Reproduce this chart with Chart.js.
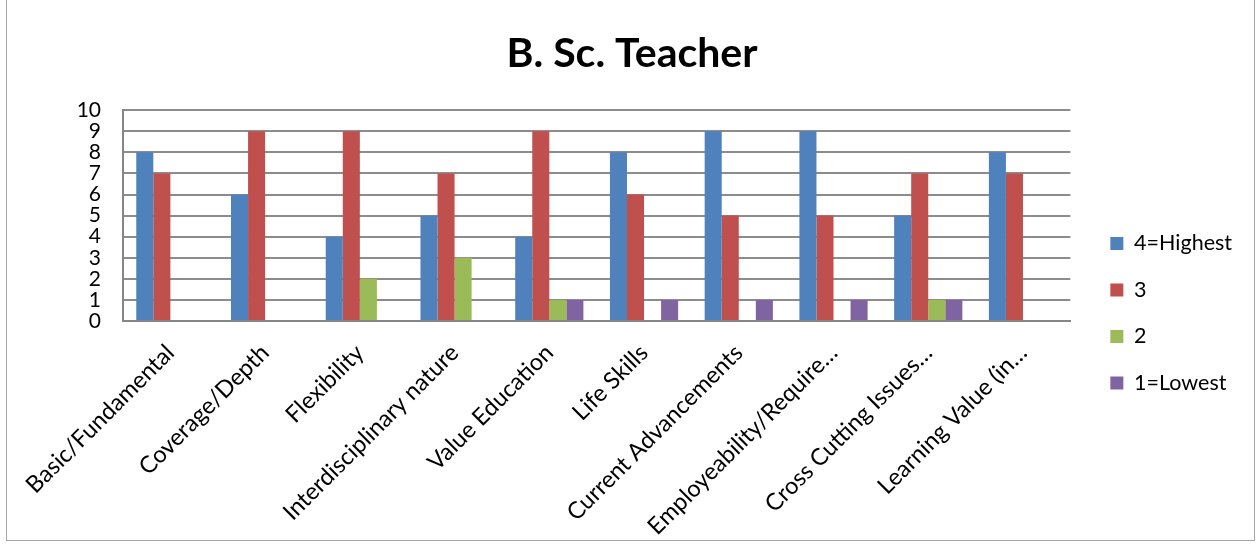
<!DOCTYPE html>
<html>
<head>
<meta charset="utf-8">
<script src="https://cdn.jsdelivr.net/npm/chart.js@4.4.1/dist/chart.umd.min.js"></script>
<style>
  html, body { margin: 0; padding: 0; background: #fff; }
  #wrap { position: relative; width: 1259px; height: 544px; }
  #frame { position: absolute; left: 6px; top: -2px; width: 1249px; height: 543px; border: 1.5px solid #a6a6a6; box-sizing: border-box; pointer-events: none; }
  canvas { position: absolute; left: 0; top: 0; }
</style>
</head>
<body>
<div id="wrap">
  <canvas id="c" width="1259" height="544"></canvas>
  <div id="frame"></div>
</div>
<script>
const categories = [
  "Basic/Fundamental",
  "Coverage/Depth",
  "Flexibility",
  "Interdisciplinary nature",
  "Value Education",
  "Life Skills",
  "Current Advancements",
  "Employeability/Require\u2026",
  "Cross Cutting Issues\u2026",
  "Learning Value (in\u2026"
];
const seriesNames = ["4=Highest", "3", "2", "1=Lowest"];
const highest = [8, 6, 4, 5, 4, 8, 9, 9, 5, 8];
const three   = [7, 9, 9, 7, 9, 6, 5, 5, 7, 7];
const two     = [0, 0, 2, 3, 1, 0, 0, 0, 1, 0];
const lowest  = [0, 0, 0, 0, 1, 1, 1, 1, 1, 0];
const yTicks = [0, 1, 2, 3, 4, 5, 6, 7, 8, 9, 10];
const colors = ["#4F81BD", "#C0504D", "#9BBB59", "#8064A2"];

const FONT = "Lato, 'Open Sans', sans-serif";
const values = [highest, three, two, lowest];

new Chart(document.getElementById('c'), {
  type: 'bar',
  data: {
    labels: categories,
    datasets: values.map((v, i) => ({
      label: seriesNames[i],
      data: v,
      backgroundColor: colors[i],
      borderWidth: 0,
      categoryPercentage: 0.72,
      barPercentage: 1.0
    }))
  },
  options: {
    responsive: false,
    animation: false,
    layout: { padding: { left: 22, right: 17, top: 0, bottom: 0 } },
    plugins: {
      title: {
        display: true,
        text: "B. Sc. Teacher",
        color: "#000",
        font: { family: FONT, size: 41, weight: 'bold' },
        padding: { top: 29, bottom: 32 }
      },
      legend: {
        position: 'right',
        align: 'center',
        title: {
          display: true,
          text: ' ',
          font: { family: FONT, size: 2 },
          padding: { top: 80, bottom: 0 }
        },
        labels: {
          color: "#000",
          font: { family: FONT, size: 21.5 },
          boxWidth: 13,
          boxHeight: 13,
          padding: 25
        }
      },
      tooltip: { enabled: false }
    },
    scales: {
      x: {
        grid: { display: false, drawTicks: false },
        border: { display: true, color: "#868686", width: 2 },
        ticks: {
          color: "#000",
          font: { family: FONT, size: 23.5 },
          minRotation: 45,
          maxRotation: 45,
          autoSkip: false,
          padding: 18
        },
        afterFit: (s) => { s.height = 223; }
      },
      y: {
        min: 0,
        max: 10,
        afterBuildTicks: (s) => { s.ticks = yTicks.map(v => ({ value: v })); },
        grid: { color: "#8c8c8c", lineWidth: 2, drawTicks: false },
        border: { display: true, color: "#868686", width: 2 },
        ticks: {
          color: "#000",
          font: { family: FONT, size: 21 },
          padding: 22,
          autoSkip: false,
          stepSize: 1
        },
        afterFit: (s) => { s.width = 101; }
      },
      gap: {
        type: 'linear',
        position: 'right',
        display: true,
        grid: { display: false, drawTicks: false },
        border: { display: false },
        ticks: { display: false },
        afterFit: (s) => { s.width = 15; }
      }
    }
  }
});
</script>
</body>
</html>
